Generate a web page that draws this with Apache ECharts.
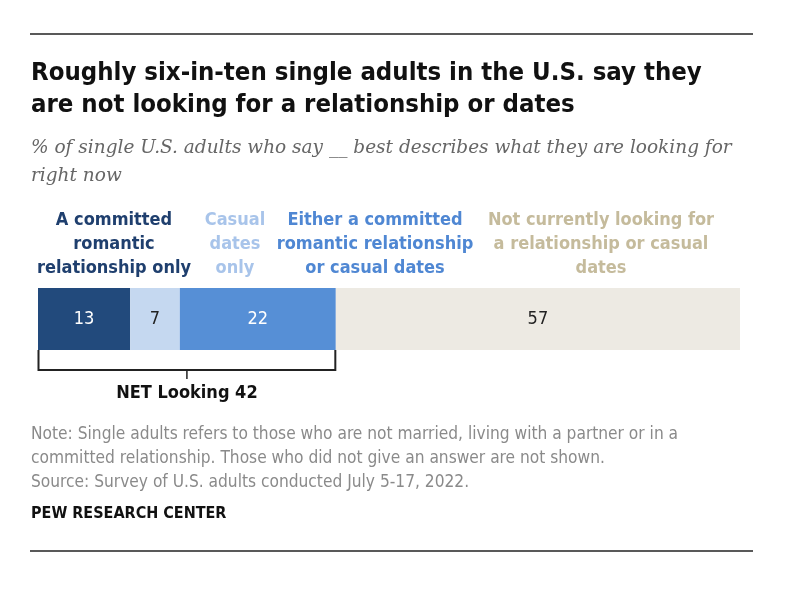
<!DOCTYPE html>
<html><head><meta charset="utf-8">
<script src="https://cdn.jsdelivr.net/npm/echarts@6/dist/echarts.min.js"></script>
<style>html,body{margin:0;padding:0;background:#fff}#c{width:788px;height:604px}</style>
</head><body><div id="c"></div>
<script>
const categories = ["A committed\nromantic\nrelationship only","Casual\ndates\nonly","Either a committed\nromantic relationship\nor casual dates","Not currently looking for\na relationship or casual\ndates"];
const values = [13, 7, 22, 57];
const netLabel = "NET Looking";
const netValue = 42;
const titleText = "Roughly six-in-ten single adults in the U.S. say they\nare not looking for a relationship or dates";
const subtitleText = "% of single U.S. adults who say __ best describes what they are looking for\nright now";
const noteText = "Note: Single adults refers to those who are not married, living with a partner or in a\ncommitted relationship. Those who did not give an answer are not shown.\nSource: Survey of U.S. adults conducted July 5-17, 2022.";
const sourceText = "PEW RESEARCH CENTER";

const barColors = ["#224a7c","#c5d8f0","#568fd6","#edeae3"];
const labelColors = ["#ffffff","#222222","#ffffff","#222222"];
const headColors = ["#1f3f6e","#a8c4ea","#4f87d3","#c5bb9c"];
const headCenters = [114, 235, 375, 601];
const COND = "'Liberation Sans Narrow','DejaVu Sans Condensed',sans-serif";

const chart = echarts.init(document.getElementById('c'), null, {renderer:'canvas'});
const series = values.map((v,i)=>({
  type:'bar', stack:'s', name:categories[i], data:[v], barWidth:62,
  itemStyle:{color:barColors[i]},
  label:{show:true, position:'inside', formatter:'{c}', color:labelColors[i], fontSize:18, fontFamily:COND}
}));
chart.setOption({
  animation:false,
  grid:{left:38, right:48, top:288, height:62},
  xAxis:{type:'value', min:0, max:99, show:false},
  yAxis:{type:'category', data:['all'], show:false},
  series
});
const x0 = chart.convertToPixel({gridIndex:0},[0,0])[0];
const x1 = chart.convertToPixel({gridIndex:0},[netValue,0])[0];
const mid = (x0+x1)/2;
const graphic = [
  {type:'line', shape:{x1:30,y1:34,x2:753,y2:34}, style:{stroke:'#222',lineWidth:1.5}},
  {type:'line', shape:{x1:30,y1:551,x2:753,y2:551}, style:{stroke:'#222',lineWidth:1.5}},
  {type:'text', x:31, y:57, style:{text:titleText, font:"bold 25.5px "+COND, fill:'#111', lineHeight:32}},
  {type:'text', x:31, y:134, style:{text:subtitleText, font:"italic 18.5px 'DejaVu Serif','Liberation Serif',serif", fill:'#666', lineHeight:28}},
  {type:'polyline', shape:{points:[[x0+0.5,350],[x0+0.5,370],[x1-0.5,370],[x1-0.5,350]]}, style:{stroke:'#222',lineWidth:2,fill:null}},
  {type:'line', shape:{x1:mid,y1:370,x2:mid,y2:379}, style:{stroke:'#222',lineWidth:1.5}},
  {type:'text', x:mid, y:393, style:{text:netLabel+" "+netValue, font:"bold 18px "+COND, fill:'#111', align:'center', verticalAlign:'middle'}},
  {type:'text', x:31, y:423, style:{text:noteText, font:"17.2px "+COND, fill:'#8a8a8a', lineHeight:24}},
  {type:'text', x:31, y:506, style:{text:sourceText, font:"bold 16px "+COND, fill:'#111'}}
];
categories.forEach((c,i)=>{
  graphic.push({type:'text', x:headCenters[i], y:208, style:{text:c, font:"bold 18px "+COND, fill:headColors[i], align:'center', lineHeight:24}});
});
chart.setOption({graphic});
</script></body></html>
